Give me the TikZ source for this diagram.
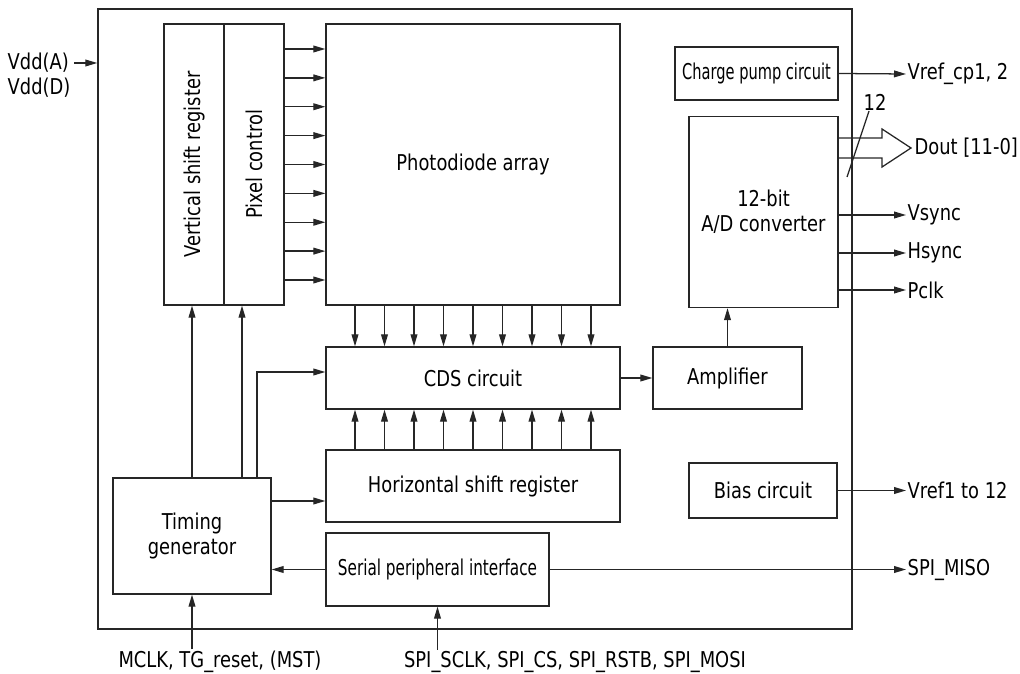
\documentclass[tikz,border=0pt]{standalone}
\usepackage{fontspec}
\setmainfont[FakeStretch=0.82]{DejaVu Sans}
\newfontfamily\narrowfont[FakeStretch=0.7]{DejaVu Sans}
\newfontfamily\narrowerfont[FakeStretch=0.67]{DejaVu Sans}
\usetikzlibrary{arrows.meta}

\begin{document}
\begin{tikzpicture}[x=0.025cm,y=-0.025cm,
  txt/.style={font=\fontsize{15.5}{18}\selectfont},
  blk/.style={draw=black!85,line width=0.9pt,inner sep=0pt,align=center,txt},
  arr/.style={draw=black!85,line width=0.9pt,-{Triangle[length=3mm,width=1.7mm]}},
  wire/.style={draw=black!85,line width=0.9pt},
  lbl/.style={inner sep=1pt,txt}]
\useasboundingbox (0,0) rectangle (1020,674);

% blocks
\node [blk,minimum width=18.85cm,minimum height=15.5cm] (chip) at (475,319) {};
\node [blk,minimum width=1.5cm,minimum height=7.025cm,label={[rotate=90,txt]center:Vertical shift register}] (vsr) at (194,164.5) {};
\node [blk,minimum width=1.5cm,minimum height=7.025cm,label={[rotate=90,txt]center:Pixel control}] (pc) at (254,164.5) {};
\node [blk,minimum width=7.35cm,minimum height=7.025cm] (pd) at (473,164.5) {Photodiode array};
\node [blk,minimum width=7.35cm,minimum height=1.55cm] (cds) at (473,378) {CDS circuit};
\node [blk,minimum width=7.35cm,minimum height=1.8cm] (hsr) at (473,486) {Horizontal shift register};
\node [blk,minimum width=5.575cm,minimum height=1.825cm,font=\narrowfont\fontsize{15.5}{18}\selectfont] (spi) at (437.5,569.5) {Serial peripheral interface};
\node [blk,minimum width=3.95cm,minimum height=2.9cm] (tg) at (192,536) {Timing\\generator};
\node [blk,minimum width=3.725cm,minimum height=1.55cm] (amp) at (727.5,378) {Amplifier};
\node [blk,minimum width=3.7cm,minimum height=1.375cm] (bias) at (763,490.5) {Bias circuit};
\node [blk,minimum width=4.075cm,minimum height=1.325cm,font=\narrowerfont\fontsize{15.5}{18}\selectfont] (cp) at (756.5,73.5) {Charge pump circuit};
\node [blk,minimum width=3.725cm,minimum height=4.775cm] (adc) at (763.5,212) {12-bit\\A/D converter};

% pins
\node [lbl,anchor=west] (vdda) at (6,63) {Vdd(A)};
\node [lbl,anchor=west] (vddd) at (6,88) {Vdd(D)};
\node [lbl,anchor=west] (vrefcp) at (906,74) {Vref\_cp1, 2};
\node [lbl,anchor=west] (dout) at (913,148) {Dout [11-0]};
\node [lbl] (width) at (875,102) {12};
\node [lbl,anchor=west] (vsync) at (906,215) {Vsync};
\node [lbl,anchor=west] (hsync) at (906,253) {Hsync};
\node [lbl,anchor=west] (pclk) at (906,290) {Pclk};
\node [lbl,anchor=west] (vref) at (906,490.5) {Vref1 to 12};
\node [lbl,anchor=west] (miso) at (906,569.5) {SPI\_MISO};
\node [lbl] (mclk) at (220,662) {MCLK, TG\_reset, (MST)};
\node [lbl] (spiin) at (575,662) {SPI\_SCLK, SPI\_CS, SPI\_RSTB, SPI\_MOSI};

% connections
\foreach \i [evaluate=\i as \y using 49+28.875*\i] in {0,...,8}
  \draw [arr] (pc.east |- 0,\y) -- (pd.west |- 0,\y);
\foreach \i [evaluate=\i as \x using 355+29.5*\i] in {0,...,8} {
  \draw [arr] (pd.south -| \x,0) -- (cds.north -| \x,0);
  \draw [arr] (hsr.north -| \x,0) -- (cds.south -| \x,0);
}
\draw [arr] (tg.north) -- (tg.north |- vsr.south);
\draw [arr] (tg.north -| 242,0) -- (pc.south -| 242,0);
\draw [arr] (tg.north -| 257,0) |- (cds.west |- 0,372);
\draw [arr] (tg.east |- 0,501) -- (hsr.west |- 0,501);
\draw [arr] (spi.west) -- (tg.east |- spi.west);
\draw [arr] (tg.south |- mclk.north) -- (tg.south);
\draw [arr] (spi.south |- spiin.north) -- (spi.south);
\draw [arr] (spi.east) -- (miso.west);
\draw [arr] (cds.east) -- (amp.west);
\draw [arr] (amp.north) -- (amp.north |- adc.south);
\draw [arr] (cp.east) -- (vrefcp.west);
\draw [arr] (bias.east) -- (vref.west);
\draw [arr] (adc.east |- vsync.west) -- (vsync.west);
\draw [arr] (adc.east |- hsync.west) -- (hsync.west);
\draw [arr] (adc.east |- pclk.west) -- (pclk.west);
\draw [arr] ([xshift=0.1cm]vdda.east) -- (chip.west |- vdda.east);

% 12-bit bus
\draw [wire,line join=miter] (adc.east |- 0,138) -- (882,138) -- (882,129) -- (911,148) -- (882,167) -- (882,158) -- (adc.east |- 0,158);
\draw [wire] (847,177) -- (869,111);
\end{tikzpicture}
\end{document}
